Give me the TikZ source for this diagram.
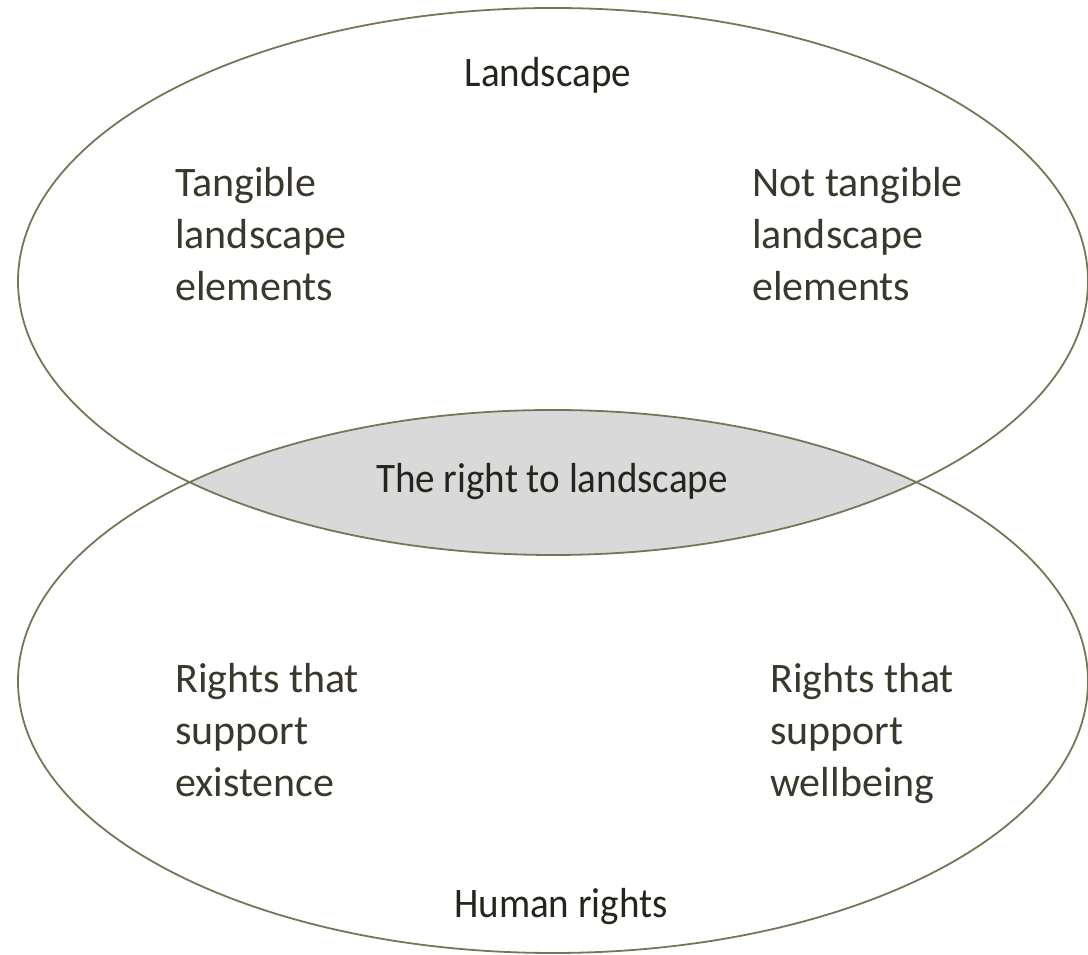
\documentclass[tikz,border=0pt]{standalone}
\usepackage{fontspec}
\setmainfont{Carlito}
\newfontfamily\narrowfont[FakeStretch=0.93]{Carlito}
\definecolor{rimolive}{RGB}{118,117,88}
\definecolor{lensgray}{RGB}{217,217,217}
\definecolor{inkdark}{RGB}{38,36,28}
\definecolor{inkbody}{RGB}{58,55,44}
\tikzset{
  set outline/.style={draw=rimolive,line width=1.8pt},
  set title/.style={inner sep=0pt,text=inkdark,font=\narrowfont\fontsize{42}{50}\selectfont},
  set item/.style={inner sep=0pt,anchor=west,align=left,text=inkbody,font=\fontsize{42}{52}\selectfont},
}

\begin{document}
\begin{tikzpicture}[x=1pt,y=1pt]
    \useasboundingbox (0,0) rectangle (1088,955);
    \begin{scope}
      \clip (553,673.5) ellipse [x radius=535pt,y radius=273.5pt];
      \fill[lensgray] (553,273.5) ellipse [x radius=535pt,y radius=271.5pt];
    \end{scope}
    \draw[set outline] (553,673.5) ellipse [x radius=535pt,y radius=273.5pt];
    \draw[set outline] (553,273.5) ellipse [x radius=535pt,y radius=271.5pt];
    \node[set title] (landscape) at (548,880) {Landscape};
    \node[set title] (right) at (552,473) {The right to landscape};
    \node[set title] (human) at (561,48) {Human rights};
    \node[set item] (tangible) at (175,721) {Tangible\\landscape\\elements};
    \node[set item] (intangible) at (752,721) {Not tangible\\landscape\\elements};
    \node[set item] (existence) at (175,225) {Rights that\\support\\existence};
    \node[set item] (wellbeing) at (770,221) {Rights that\\support\\wellbeing};
\end{tikzpicture}
\end{document}
